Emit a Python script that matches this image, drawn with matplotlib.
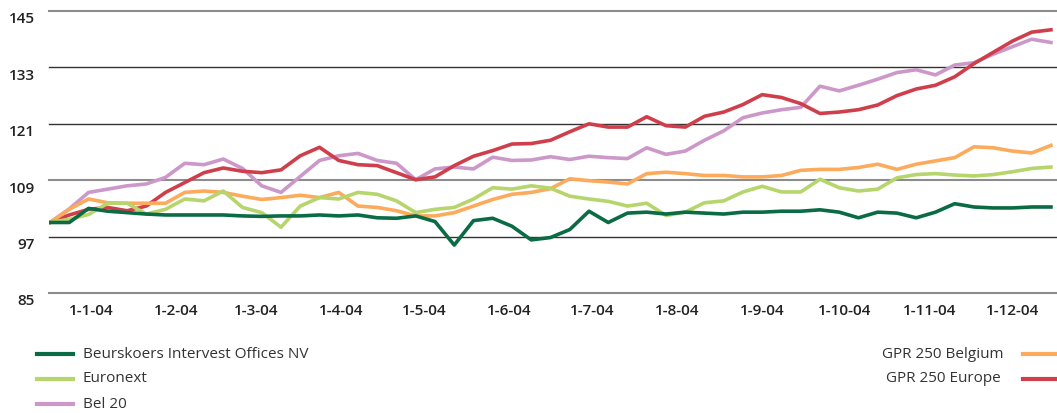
import matplotlib
matplotlib.use('Agg')
import matplotlib.pyplot as plt
from matplotlib.lines import Line2D
from matplotlib.transforms import ScaledTranslation
import pandas as pd

# weekly readings, 17-12-03 .. 15-12-04
dates = pd.date_range('2003-12-17', periods=53, freq='7D')

intervest = [100.0, 100.0, 103.0, 102.4, 102.1, 101.8, 101.6, 101.6, 101.6, 101.6, 101.4, 101.3, 101.4,
             101.4, 101.6, 101.4, 101.6, 101.0, 100.9, 101.4, 100.2, 95.2, 100.4, 100.9, 99.2, 96.3, 96.8,
             98.5, 102.4, 100.0, 102.0, 102.2, 101.8, 102.2, 102.0, 101.8, 102.2, 102.2, 102.4, 102.4,
             102.7, 102.2, 101.0, 102.2, 102.0, 101.0, 102.2, 104.0, 103.3, 103.1, 103.1, 103.3, 103.3]
euronext = [100.0, 100.7, 101.7, 104.1, 104.1, 101.8, 102.8, 105.0, 104.6, 106.7, 103.2, 102.1, 99.0,
            103.5, 105.3, 105.0, 106.4, 106.0, 104.6, 102.1, 102.8, 103.2, 105.0, 107.4, 107.1, 107.8, 107.3,
            105.6, 105.0, 104.5, 103.5, 104.1, 101.5, 102.2, 104.2, 104.6, 106.5, 107.7, 106.5, 106.5,
            109.2, 107.4, 106.7, 107.1, 109.5, 110.2, 110.4, 110.1, 109.9, 110.2, 110.8, 111.5, 111.8]
bel20 = [100.0, 102.9, 106.4, 107.1, 107.8, 108.2, 109.6, 112.6, 112.3, 113.5, 111.5, 107.8, 106.4,
         109.8, 113.2, 114.2, 114.7, 113.2, 112.6, 109.1, 111.4, 111.8, 111.4, 113.9, 113.2, 113.3, 114.0,
         113.4, 114.1, 113.8, 113.6, 115.9, 114.5, 115.2, 117.5, 119.5, 122.3, 123.3, 124.0, 124.5,
         129.0, 128.0, 129.2, 130.5, 131.9, 132.5, 131.4, 133.5, 134.0, 135.8, 137.4, 139.0, 138.3]
gpr_belgium = [100.0, 102.8, 105.0, 104.2, 104.1, 104.1, 104.1, 106.4, 106.7, 106.4, 105.6, 104.9, 105.3,
               105.8, 105.3, 106.4, 103.5, 103.2, 102.5, 101.4, 101.4, 102.1, 103.5, 104.9, 106.0, 106.4, 107.2,
               109.3, 108.9, 108.6, 108.2, 110.4, 110.7, 110.4, 110.0, 110.0, 109.7, 109.7, 110.0, 111.1,
               111.3, 111.3, 111.7, 112.4, 111.3, 112.4, 113.1, 113.8, 116.1, 115.9, 115.2, 114.8, 116.4]
gpr_europe = [100.0, 101.6, 102.8, 103.2, 102.5, 103.5, 106.4, 108.5, 110.6, 111.6, 110.9, 110.6, 111.2,
              114.2, 116.0, 113.2, 112.3, 112.1, 110.6, 109.1, 109.7, 112.1, 114.1, 115.3, 116.7, 116.8, 117.5,
              119.3, 121.0, 120.3, 120.3, 122.5, 120.6, 120.3, 122.6, 123.5, 125.1, 127.2, 126.6, 125.3,
              123.2, 123.5, 124.0, 125.0, 127.0, 128.4, 129.2, 131.0, 133.8, 136.2, 138.6, 140.5, 141.0]

yticks = [85, 97, 109, 121, 133, 145]
month_ticks = pd.date_range('2004-01-01', '2004-12-01', freq='MS')
month_labels = ['1-%d-04' % d.month for d in month_ticks]

names = ['Beurskoers Intervest Offices NV', 'Euronext', 'Bel 20', 'GPR 250 Belgium', 'GPR 250 Europe']
colours = ['#0b6b44', '#b6d56c', '#cc98c9', '#fcaa5c', '#cf3f4b']
series = [intervest, euronext, bel20, gpr_belgium, gpr_europe]

plt.rcParams['font.family'] = ['Open Sans', 'DejaVu Sans']

W, H = 1057, 413
fig = plt.figure(figsize=(W / 100, H / 100), dpi=100)
ax = fig.add_axes([49 / W, 1 - 293 / H, 1008 / W, 282 / H])

for v in yticks:
    if v in (85, 109, 145):
        ax.axhline(v, color='#8c8c8c', lw=1.5, zorder=0, clip_on=False)
    else:
        ax.axhline(v, color='#333333', lw=1.0, zorder=0, clip_on=False)

order = [2, 4, 3, 1, 0]
for i in order:
    ax.plot(dates, series[i], color=colours[i], lw=2.6, solid_joinstyle='round', zorder=2)

ax.set_ylim(85, 145)
ax.set_xlim(dates[0] - pd.Timedelta(hours=9), dates[-1] + pd.Timedelta(days=2.2))
ax.set_yticks(yticks)
ax.set_yticklabels([str(v) for v in yticks], fontsize=11, fontweight='semibold', color='#222222')
ax.set_xticks(month_ticks)
ax.set_xticklabels(month_labels, fontsize=11, fontweight='semibold', color='#222222')
ax.tick_params(axis='both', length=0)
ax.tick_params(axis='y', pad=10)
ax.tick_params(axis='x', pad=8)
for lab in ax.get_yticklabels():
    lab.set_transform(lab.get_transform() + ScaledTranslation(0, -5 / 72, fig.dpi_scale_trans))
for s in ax.spines.values():
    s.set_visible(False)

# legend, left block
for j, yy in enumerate([354, 379, 404]):
    fig.add_artist(Line2D([37 / W, 73 / W], [1 - yy / H, 1 - yy / H], color=colours[j], lw=3,
                          transform=fig.transFigure))
    fig.text(83 / W, 1 - yy / H, names[j], fontsize=11, color='#333333', va='center', ha='left')
# legend, right block
for j, yy in zip([3, 4], [354, 379]):
    fig.add_artist(Line2D([1023 / W, 1057 / W], [1 - yy / H, 1 - yy / H], color=colours[j], lw=3,
                          transform=fig.transFigure))
    fig.text(943 / W, 1 - yy / H, names[j], fontsize=11, color='#333333', va='center', ha='center')

fig.savefig('out.png', dpi=100)
